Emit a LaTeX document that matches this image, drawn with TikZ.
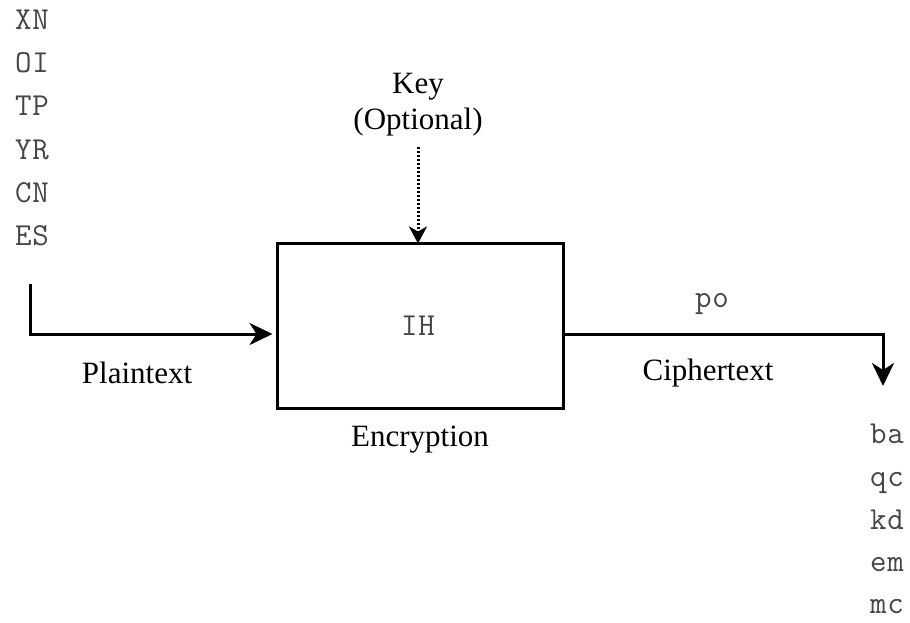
\documentclass[tikz,border=0pt]{standalone}
\usepackage{fontspec}
\setmainfont{Liberation Serif}
\newfontfamily\monof[LetterSpace=3]{Latin Modern Mono}
\usetikzlibrary{arrows.meta}
\definecolor{lettergray}{RGB}{70,70,70}
\begin{document}
\begin{tikzpicture}[x=1pt,y=-1pt,
  lbl/.style={font=\fontsize{31}{36}\selectfont, text=black, inner sep=0pt},
  mono/.style={font=\monof\fontsize{32}{36}\selectfont, text=lettergray, inner sep=0pt, anchor=base},
  tip/.style={-{Stealth[length=23pt,width=22pt,inset=7pt]}},
  conn/.style={line width=3pt, tip},
  box/.style={draw, line width=3pt, minimum width=286pt, minimum height=165pt, inner sep=0pt}]
\useasboundingbox (0,0) rectangle (910,623);
% left letters
\node[mono] (l1) at (32,30) {XN};
\node[mono] (l2) at (32,73) {OI};
\node[mono] (l3) at (32,116) {TP};
\node[mono] (l4) at (32,159) {YR};
\node[mono] (l5) at (32,202) {CN};
\node[mono] (l6) at (32,245) {ES};
% right letters
\node[mono] (r1) at (887,443) {ba};
\node[mono] (r2) at (887,486) {qc};
\node[mono] (r3) at (887,529) {kd};
\node[mono] (r4) at (887,571) {em};
\node[mono] (r5) at (887,613) {mc};
% box
\node[box] (enc) at (420,325.5) {};
\node[mono] (ih) at (418,335) {IH};
\node[lbl] (enclbl) at (420,440) {Encryption};
% key
\node[lbl] (key) at (418,87) {Key};
\node[lbl] (opt) at (418,122) {(Optional)};
\coordinate (keystart) at (418,147);
\draw[line width=3pt, dash pattern=on 2.2pt off 1.8pt, -{Stealth[length=17pt,width=18pt,inset=5pt]}] (keystart) -- ([yshift=-2pt]enc.north -| keystart);
% plaintext
\coordinate (pstart) at (30,284);
\coordinate (pcorner) at (30,334);
\draw[conn] (pstart) -- (pcorner) -- ([xshift=-3pt]enc.west |- pcorner);
\node[lbl] (plain) at (137,373) {Plaintext};
% ciphertext
\coordinate (ccorner) at (883,334);
\coordinate (cend) at (883,386);
\draw[conn] (enc.east |- ccorner) -- (ccorner) -- (cend);
\node[mono] (po) at (712,307) {po};
\node[lbl] (ciph) at (708,373) {Ciphertext};
\end{tikzpicture}
\end{document}
